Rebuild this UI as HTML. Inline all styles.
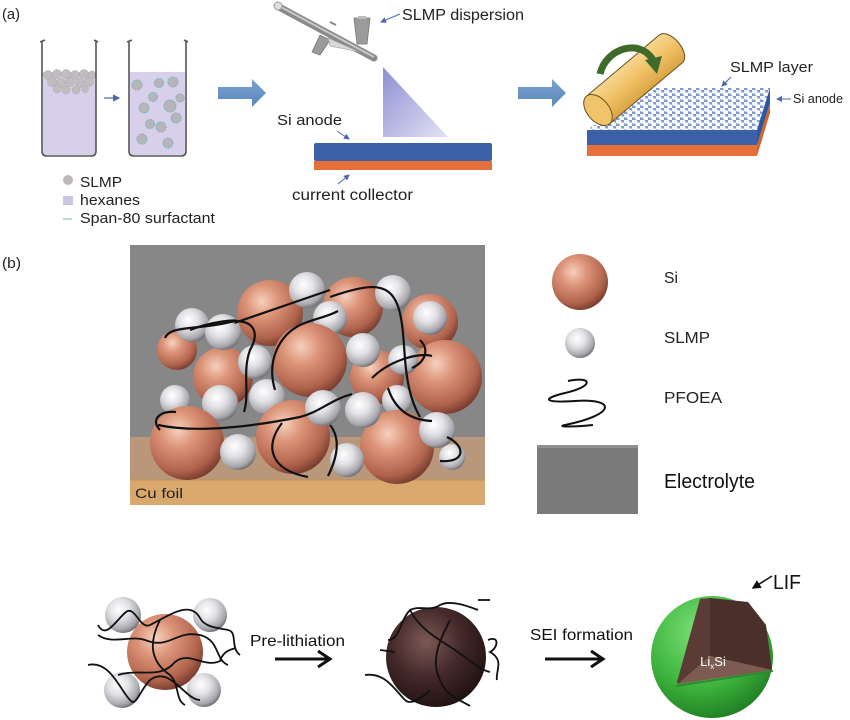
<!DOCTYPE html>
<html><head><meta charset="utf-8"><style>
html,body{margin:0;padding:0;background:#fff;}
svg{display:block;font-family:"Liberation Sans",Arial,sans-serif;}
</style></head><body>
<svg width="850" height="720" viewBox="0 0 850 720" xmlns="http://www.w3.org/2000/svg">
<defs>
<radialGradient id="cu" cx="0.38" cy="0.32" r="0.7">
<stop offset="0" stop-color="#f6d0bf"/><stop offset="0.35" stop-color="#dc9478"/><stop offset="0.8" stop-color="#b0634c"/><stop offset="1" stop-color="#7a3e30"/></radialGradient>
<radialGradient id="ag" cx="0.4" cy="0.35" r="0.7">
<stop offset="0" stop-color="#ffffff"/><stop offset="0.4" stop-color="#e2e2e6"/><stop offset="0.8" stop-color="#a6a6ac"/><stop offset="1" stop-color="#5e5e64"/></radialGradient>
<radialGradient id="dk" cx="0.4" cy="0.35" r="0.7">
<stop offset="0" stop-color="#7a5a56"/><stop offset="0.5" stop-color="#45292a"/><stop offset="1" stop-color="#1e1010"/></radialGradient>
<radialGradient id="gr" cx="0.4" cy="0.3" r="0.75">
<stop offset="0" stop-color="#7ee07a"/><stop offset="0.6" stop-color="#3cb43c"/><stop offset="1" stop-color="#1f7a22"/></radialGradient>
<linearGradient id="spray" x1="0" y1="0" x2="1" y2="1">
<stop offset="0" stop-color="#8e8fd2"/><stop offset="1" stop-color="#e2e2f4"/></linearGradient>
<linearGradient id="blueArrow" x1="0" y1="0" x2="0" y2="1">
<stop offset="0" stop-color="#7aa3d0"/><stop offset="1" stop-color="#5b87bc"/></linearGradient>
<linearGradient id="roller" x1="0" y1="0" x2="0" y2="1">
<stop offset="0" stop-color="#f7d690"/><stop offset="0.5" stop-color="#f0c064"/><stop offset="1" stop-color="#d9a445"/></linearGradient>
<pattern id="speck" width="8" height="6" patternUnits="userSpaceOnUse">
<rect width="8" height="6" fill="#7d9ad0"/>
<ellipse cx="2.2" cy="1.6" rx="3.2" ry="2.1" fill="#f4f7fc"/>
<ellipse cx="6.2" cy="4.4" rx="3" ry="2" fill="#ffffff"/>
</pattern>
<marker id="ah" markerWidth="6" markerHeight="6" refX="5" refY="3" orient="auto"><path d="M0,0 L6,3 L0,6 z" fill="#4a67a8"/></marker>
<marker id="ahk" markerWidth="6" markerHeight="6" refX="5" refY="3" orient="auto"><path d="M0,0 L6,3 L0,6 z" fill="#111"/></marker>
</defs>

<!-- (a) -->
<text x="2" y="19" font-size="15" fill="#222" textLength="18" lengthAdjust="spacingAndGlyphs">(a)</text>

<!-- beakers -->
<rect x="43" y="72" width="53" height="83" fill="#d8cfea"/>
<g fill="#c2bcc0" stroke="#aaa" stroke-width="0.5">
<circle cx="48" cy="75" r="4.5"/><circle cx="57" cy="74" r="4.5"/><circle cx="66" cy="74" r="4.5"/><circle cx="75" cy="75" r="4.5"/><circle cx="84" cy="74" r="4.5"/><circle cx="92" cy="75" r="4"/>
<circle cx="52" cy="82" r="4.5"/><circle cx="61" cy="83" r="4.5"/><circle cx="70" cy="82" r="4.5"/><circle cx="80" cy="83" r="4.5"/><circle cx="89" cy="82" r="4.5"/>
<circle cx="57" cy="89" r="4"/><circle cx="66" cy="90" r="4"/><circle cx="76" cy="90" r="4"/><circle cx="85" cy="89" r="3.5"/>
</g>
<rect x="130" y="72" width="55" height="83" fill="#d8cfea"/>
<g fill="#b8b4b8" stroke="#6fb4b8" stroke-width="1.2" stroke-dasharray="1.2 1">
<circle cx="137" cy="85" r="5"/><circle cx="159" cy="83" r="4.5"/><circle cx="173" cy="82" r="5"/>
<circle cx="153" cy="97" r="4.5"/><circle cx="144" cy="108" r="5"/><circle cx="170" cy="106" r="6"/>
<circle cx="176" cy="118" r="5"/><circle cx="150" cy="124" r="4.5"/><circle cx="161" cy="127" r="5"/>
<circle cx="142" cy="139" r="5"/><circle cx="168" cy="143" r="5"/><circle cx="180" cy="98" r="4"/>
</g>
<g fill="none" stroke="#555" stroke-width="1.6">
<path d="M42,41 L42,151 Q42,156 47,156 L91,156 Q96,156 96,151 L96,41"/>
<path d="M129,41 L129,151 Q129,156 134,156 L181,156 Q186,156 186,151 L186,41"/>
<path d="M40,42 L45,40 M94,40 L98,42 M127,42 L132,40 M184,40 L188,42"/>
</g>
<line x1="104" y1="98" x2="119" y2="98" stroke="#4a67a8" stroke-width="1.2" marker-end="url(#ah)"/>

<circle cx="68" cy="180" r="5" fill="#bdb8bb"/>
<text x="80" y="187" font-size="15" fill="#222" textLength="42" lengthAdjust="spacingAndGlyphs">SLMP</text>
<rect x="63" y="196" width="10" height="9" fill="#cdc3e3"/>
<text x="80" y="205" font-size="15" fill="#222" textLength="60" lengthAdjust="spacingAndGlyphs">hexanes</text>
<line x1="63" y1="219" x2="72" y2="219" stroke="#8fc4c8" stroke-width="1.2"/>
<text x="80" y="223" font-size="15" fill="#222" textLength="135" lengthAdjust="spacingAndGlyphs">Span-80 surfactant</text>

<!-- blue arrows -->
<path d="M218,87 L252,87 L252,79 L266,93 L252,107 L252,99 L218,99 Z" fill="url(#blueArrow)"/>
<path d="M518,87 L552,87 L552,79 L566,93 L552,107 L552,99 L518,99 Z" fill="url(#blueArrow)"/>

<!-- airbrush -->
<g>
<line x1="279" y1="7" x2="374" y2="58" stroke="#8a8a8c" stroke-width="7" stroke-linecap="round"/>
<line x1="279" y1="6" x2="374" y2="57" stroke="#c8c8ca" stroke-width="2"/>
<circle cx="278" cy="6" r="4" fill="#e0e0e0" stroke="#999"/>
<path d="M354,18 L370,18 L367,44 L357,44 Z" fill="#9b9b9b" stroke="#777" stroke-width="0.8"/>
<path d="M358,16 L366,16 L366,19 L358,19 Z" fill="#bbb"/>
<path d="M320,35 L312,52 L320,55 L330,40 Z" fill="#9a9a9a" stroke="#777" stroke-width="0.8"/>
<path d="M328,38 L360,52 L330,46 Z" fill="#d8d8d8" stroke="#999" stroke-width="0.6"/>
<line x1="330" y1="22" x2="336" y2="25" stroke="#888" stroke-width="2"/>
</g>
<text x="402" y="20" font-size="15.5" fill="#222" textLength="122" lengthAdjust="spacingAndGlyphs">SLMP dispersion</text>
<line x1="400" y1="14" x2="381" y2="22" stroke="#4a67a8" stroke-width="1" marker-end="url(#ah)"/>

<polygon points="383,67 383,137 448,137" fill="url(#spray)"/>
<rect x="314" y="143" width="178" height="18" rx="2" fill="#3b62a8"/>
<rect x="314" y="161" width="178" height="9" fill="#e5703a"/>
<text x="277" y="125" font-size="15" fill="#222" textLength="65" lengthAdjust="spacingAndGlyphs">Si anode</text>
<line x1="337" y1="131" x2="349" y2="139" stroke="#4a67a8" stroke-width="1" marker-end="url(#ah)"/>
<text x="292" y="200" font-size="15.5" fill="#222" textLength="121" lengthAdjust="spacingAndGlyphs">current collector</text>
<line x1="338" y1="184" x2="349" y2="175" stroke="#4a67a8" stroke-width="1" marker-end="url(#ah)"/>

<!-- slab -->
<polygon points="587,130 757,130 770,88 648,88" fill="url(#speck)"/>
<rect x="587" y="130" width="170" height="15" fill="#3b62a8"/>
<rect x="587" y="145" width="170" height="11" fill="#e5703a"/>
<polygon points="757,130 770,88 770,103 757,145" fill="#2f559b"/>
<polygon points="757,145 770,103 770,113 757,156" fill="#d4622f"/>
<text x="730" y="72" font-size="15" fill="#222" textLength="83" lengthAdjust="spacingAndGlyphs">SLMP layer</text>
<line x1="731" y1="77" x2="722" y2="86" stroke="#4a67a8" stroke-width="1" marker-end="url(#ah)"/>
<text x="793" y="103" font-size="13" fill="#222" textLength="50" lengthAdjust="spacingAndGlyphs">Si anode</text>
<line x1="791" y1="99" x2="777" y2="99" stroke="#4a67a8" stroke-width="1" marker-end="url(#ah)"/>

<!-- roller -->
<g transform="translate(598,110) rotate(-40)">
<path d="M0,-18 L95,-18 A10,18 0 0 1 95,18 L0,18 Z" fill="url(#roller)" stroke="#6a5020" stroke-width="1"/>
<ellipse cx="0" cy="0" rx="11" ry="18" fill="#f0c56a" stroke="#6a5020" stroke-width="1"/>
</g>
<path d="M600,74 C606,48 640,38 653,60" fill="none" stroke="#3e6a2a" stroke-width="7"/>
<polygon points="645,60 662,56 657,74" fill="#3e6a2a"/>

<!-- (b) -->
<text x="2" y="268" font-size="15" fill="#222" textLength="19" lengthAdjust="spacingAndGlyphs">(b)</text>

<rect x="130" y="245" width="355" height="195" fill="#878787"/>
<rect x="130" y="437" width="355" height="44" fill="#b8977a"/>
<rect x="130" y="480" width="355" height="25" fill="#d8a86c"/>
<line x1="130" y1="480" x2="485" y2="480" stroke="#c09058" stroke-width="1"/>
<text x="135" y="498" font-size="14" fill="#222" textLength="48" lengthAdjust="spacingAndGlyphs">Cu foil</text>

<!-- spheres -->
<g>
<circle cx="270" cy="313" r="33" fill="url(#cu)"/>
<circle cx="353" cy="307" r="30" fill="url(#cu)"/>
<circle cx="430" cy="322" r="28" fill="url(#cu)"/>
<circle cx="177" cy="350" r="20" fill="url(#cu)"/>
<circle cx="307" cy="290" r="18" fill="url(#ag)"/>
<circle cx="393" cy="293" r="18" fill="url(#ag)"/>
<circle cx="330" cy="318" r="17" fill="url(#ag)"/>
<circle cx="430" cy="318" r="17" fill="url(#ag)"/>
<circle cx="192" cy="325" r="17" fill="url(#ag)"/>
<circle cx="223" cy="377" r="30" fill="url(#cu)"/>
<circle cx="377" cy="377" r="27" fill="url(#cu)"/>
<circle cx="223" cy="332" r="18" fill="url(#ag)"/>
<circle cx="310" cy="360" r="37" fill="url(#cu)"/>
<circle cx="445" cy="377" r="37" fill="url(#cu)"/>
<circle cx="255" cy="362" r="17" fill="url(#ag)"/>
<circle cx="363" cy="350" r="17" fill="url(#ag)"/>
<circle cx="403" cy="360" r="15" fill="url(#ag)"/>
<circle cx="175" cy="400" r="15" fill="url(#ag)"/>
<circle cx="220" cy="403" r="18" fill="url(#ag)"/>
<circle cx="267" cy="397" r="18" fill="url(#ag)"/>
<circle cx="397" cy="400" r="15" fill="url(#ag)"/>
<circle cx="187" cy="443" r="37" fill="url(#cu)"/>
<circle cx="293" cy="437" r="37" fill="url(#cu)"/>
<circle cx="397" cy="447" r="37" fill="url(#cu)"/>
<circle cx="323" cy="408" r="18" fill="url(#ag)"/>
<circle cx="363" cy="410" r="18" fill="url(#ag)"/>
<circle cx="437" cy="430" r="18" fill="url(#ag)"/>
<circle cx="238" cy="452" r="18" fill="url(#ag)"/>
<circle cx="347" cy="460" r="17" fill="url(#ag)"/>
<circle cx="452" cy="457" r="13" fill="url(#ag)"/>
</g>
<g fill="none" stroke="#111" stroke-width="2.2">
<path d="M190,330 C210,322 240,318 237,322 L330,290"/>
<path d="M330,297 C350,290 370,285 380,288 C400,292 402,320 404,345 C406,380 410,400 420,417"/>
<path d="M165,338 C170,325 200,330 230,322 C250,318 262,330 250,350 C242,372 250,392 244,412"/>
<path d="M158,425 C200,434 260,425 300,417 C320,412 330,400 352,394"/>
<path d="M275,390 C266,360 280,335 300,325 C315,318 325,318 338,311"/>
<path d="M372,378 C390,360 420,352 432,356"/>
<path d="M388,388 C395,410 410,420 432,421"/>
<path d="M447,437 C466,446 466,463 440,461"/>
<path d="M330,425 C342,440 336,460 328,476"/>
<path d="M282,423 C264,446 270,470 308,477"/>
<path d="M160,430 C150,420 160,410 176,412"/>
<path d="M420,340 C430,350 425,362 412,368"/>
</g>

<!-- legend b -->
<circle cx="580" cy="282" r="28" fill="url(#cu)"/>
<text x="664" y="283" font-size="16" fill="#222" textLength="14" lengthAdjust="spacingAndGlyphs">Si</text>
<circle cx="580" cy="343" r="15" fill="url(#ag)"/>
<text x="664" y="343" font-size="16" fill="#222" textLength="46" lengthAdjust="spacingAndGlyphs">SLMP</text>
<path d="M568,381 C592,376 595,386 565,393 C540,399 545,403 575,401 C615,398 618,414 565,425 C555,427 575,427 593,425" fill="none" stroke="#111" stroke-width="2"/>
<text x="664" y="403" font-size="16" fill="#222" textLength="58" lengthAdjust="spacingAndGlyphs">PFOEA</text>
<rect x="537" y="445" width="101" height="69" fill="#7a7a7a"/>
<rect x="537" y="445" width="101" height="3" fill="#909090"/>
<text x="664" y="488" font-size="20" fill="#111" textLength="91" lengthAdjust="spacingAndGlyphs">Electrolyte</text>

<!-- bottom row -->
<circle cx="165" cy="652" r="38" fill="url(#cu)"/>
<circle cx="123" cy="615" r="18" fill="url(#ag)"/>
<circle cx="210" cy="615" r="17" fill="url(#ag)"/>
<circle cx="122" cy="690" r="18" fill="url(#ag)"/>
<circle cx="204" cy="690" r="17" fill="url(#ag)"/>
<g fill="none" stroke="#111" stroke-width="1.8">
<path d="M98,625 C106,640 116,620 126,612 C135,605 140,630 150,625 C170,615 190,600 200,618 C205,628 220,628 228,630 C238,632 230,648 240,655"/>
<path d="M98,635 C112,645 130,635 145,640 C170,650 175,630 200,635 C220,640 215,660 228,665"/>
<path d="M88,665 C110,660 120,690 130,700 C136,708 140,690 150,680 C170,665 185,700 200,700"/>
<path d="M160,620 C150,640 148,660 170,675 C180,685 175,700 185,705"/>
<path d="M118,675 C140,668 160,680 175,662 C190,650 205,670 222,660"/>
<path d="M220,660 C225,650 230,650 236,648"/>
</g>
<text x="250" y="646" font-size="16" fill="#111" textLength="95" lengthAdjust="spacingAndGlyphs">Pre-lithiation</text>
<line x1="275" y1="659" x2="328" y2="659" stroke="#111" stroke-width="3"/>
<path d="M318,651 L330,659 L318,667" fill="none" stroke="#111" stroke-width="3"/>

<circle cx="436" cy="657" r="50" fill="url(#dk)"/>
<g fill="none" stroke="#111" stroke-width="1.8">
<path d="M388,640 C400,640 400,620 410,610 C420,605 430,612 440,605 C450,600 465,605 478,610"/>
<path d="M410,610 C420,630 440,640 455,650 C470,660 480,670 490,672"/>
<path d="M365,675 C385,672 395,690 405,700 C410,705 420,700 430,690"/>
<path d="M450,620 C440,640 430,660 440,680 C445,695 460,700 470,706"/>
<path d="M478,600 L490,600"/>
<path d="M488,640 C500,635 498,648 490,652 C505,660 495,672 497,680"/>
<path d="M380,650 L395,652"/>
</g>
<text x="530" y="640" font-size="16" fill="#111" textLength="103" lengthAdjust="spacingAndGlyphs">SEI formation</text>
<line x1="545" y1="659" x2="601" y2="659" stroke="#111" stroke-width="3"/>
<path d="M591,651 L603,659 L591,667" fill="none" stroke="#111" stroke-width="3"/>

<circle cx="712" cy="657" r="61" fill="url(#gr)"/>
<polygon points="700,599 710,598 710,656 678,684 677,682" fill="#5a3b35"/>
<polygon points="710,598 748,602 766,625 772,670 710,656" fill="#4a2f2b"/>
<polygon points="678,684 710,656 772,670" fill="#7d5a52"/>
<path d="M676,686 L773,671" stroke="#2f8a2f" stroke-width="2"/>
<text x="713" y="666" font-size="13" fill="#fff" text-anchor="middle">Li<tspan font-size="8" dy="3">x</tspan><tspan dy="-3">Si</tspan></text>
<text x="773" y="589" font-size="20" fill="#111" textLength="28" lengthAdjust="spacingAndGlyphs">LIF</text>
<line x1="772" y1="576" x2="753" y2="588" stroke="#111" stroke-width="1.5" marker-end="url(#ahk)"/>
</svg>
</body></html>
